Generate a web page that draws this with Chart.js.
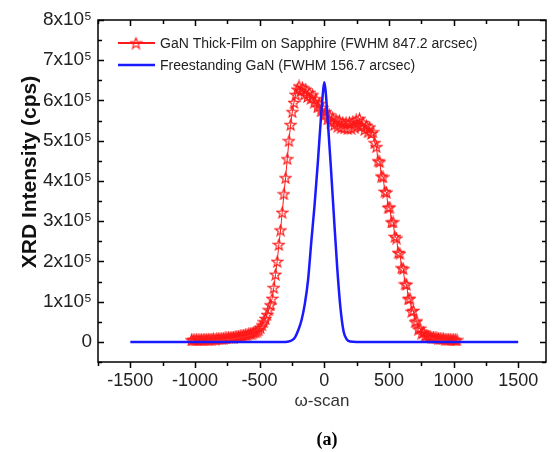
<!DOCTYPE html>
<html>
<head>
<meta charset="utf-8">
<script src="https://cdn.jsdelivr.net/npm/chart.js@4.4.1/dist/chart.umd.min.js"></script>
<style>
  html, body { margin: 0; padding: 0; background: #fff; }
</style>
</head>
<body>
<canvas id="grafico" width="553" height="452"></canvas>
<script>
// omega-scan en arcsec, intensidad en unidades de 10^5 cps
const omegaRojo = [-1027,-1014,-1001,-988,-975,-962,-949,-936,-923,-910,-897,-884,-871,-858,-845,-832,-819,-806,-793,-780,
  -767,-754,-741,-728,-715,-702,-689,-676,-663,-650,-637,-624,-611,-598,-585,-572,-559,-546,-533,-520,
  -507,-494,-481,-468,-455,-442,-429,-416,-403,-390,-377,-364,-351,-338,-325,-312,-299,-286,-273,-260,
  -247,-234,-221,-208,-195,-182,-169,-156,-143,-130,-117,-104,-91,-78,-65,-52,-39,-26,-13,0,
  13,26,39,52,65,78,91,104,117,130,143,156,169,182,195,208,221,234,247,260,
  273,286,299,312,325,338,351,364,377,390,403,416,429,442,455,468,481,494,507,520,
  533,546,559,572,585,598,611,624,637,650,663,676,689,702,715,728,741,754,767,780,
  793,806,819,832,845,858,871,884,897,910,923,936,949,962,975,988,1001,1014,1027];
const intensidadRojo = [0.05,0.06,0.05,0.06,0.05,0.06,0.06,0.06,0.07,0.06,0.07,0.07,0.07,0.08,0.07,0.08,0.08,0.08,0.09,0.09,
  0.10,0.10,0.11,0.11,0.12,0.12,0.13,0.14,0.14,0.15,0.16,0.17,0.18,0.18,0.20,0.21,0.22,0.24,0.25,0.27,
  0.30,0.35,0.42,0.50,0.58,0.68,0.80,0.92,1.08,1.35,1.68,2.00,2.42,2.78,3.22,3.68,4.08,4.55,5.00,5.40,
  5.72,5.95,6.15,6.28,6.36,6.25,6.32,6.15,6.28,6.10,6.20,6.05,6.14,5.96,6.04,5.84,5.92,5.74,5.82,5.64,
  5.72,5.54,5.64,5.46,5.57,5.40,5.52,5.36,5.50,5.33,5.46,5.32,5.45,5.30,5.46,5.31,5.48,5.34,5.52,5.38,
  5.55,5.36,5.45,5.28,5.38,5.22,5.34,5.18,5.22,4.95,4.85,4.50,4.48,4.12,4.10,3.74,3.72,3.34,3.35,2.98,
  2.98,2.62,2.58,2.22,2.20,1.84,1.82,1.44,1.43,1.07,1.08,0.76,0.78,0.50,0.52,0.32,0.34,0.22,0.24,0.16,
  0.17,0.13,0.14,0.11,0.12,0.10,0.10,0.09,0.09,0.08,0.08,0.07,0.07,0.07,0.06,0.06,0.06,0.05,0.05];

const omegaAzul = [-1500,-300,-275,-250,-225,-200,-175,-150,-125,-100,-75,-50,-25,-10,0,10,25,50,75,100,125,150,175,200,250,1500];
const intensidadAzul = [0,0,0.01,0.04,0.12,0.3,0.55,0.95,1.55,2.5,3.4,4.45,5.6,6.2,6.45,6.25,5.6,4.4,3.1,1.85,0.85,0.25,0.06,0.01,0,0];

const ticksX = [-1500,-1000,-500,0,500,1000,1500];
const menoresX = [-1750,-1250,-750,-250,250,750,1250];
const ticksY = [0,1,2,3,4,5,6,7,8];
const menoresY = [-0.5,0.5,1.5,2.5,3.5,4.5,5.5,6.5,7.5];

const etiquetaRojo = 'GaN Thick-Film on Sapphire (FWHM 847.2 arcsec)';
const etiquetaAzul = 'Freestanding GaN (FWHM 156.7 arcsec)';
const tituloY = 'XRD Intensity (cps)';

// estrella hueca para los puntos rojos
function hacerEstrella(tam, color){
  const c = document.createElement('canvas');
  c.width = tam; c.height = tam;
  const g = c.getContext('2d');
  const r1 = tam/2 - 0.8, r2 = r1*0.42, cx = tam/2, cy = tam/2 + 0.6;
  g.beginPath();
  for (let i = 0; i < 10; i++){
    const r = i % 2 ? r2 : r1;
    const a = -Math.PI/2 + i*Math.PI/5;
    g.lineTo(cx + r*Math.cos(a), cy + r*Math.sin(a));
  }
  g.closePath();
  g.strokeStyle = color;
  g.lineWidth = 1.2;
  g.stroke();
  return c;
}
const estrella = hacerEstrella(13, '#ff1a1a');

const puntosRojo = omegaRojo.map((w, i) => ({x: w, y: intensidadRojo[i]}));
const puntosAzul = omegaAzul.map((w, i) => ({x: w, y: intensidadAzul[i]}));

const fuente = "'Liberation Sans', Arial, sans-serif";

const marco = {
  id: 'marco',
  afterDraw(chart){
    const {ctx, chartArea: a, scales} = chart;
    const sx = scales.x, sy = scales.y;
    ctx.save();
    ctx.strokeStyle = '#000';
    ctx.lineWidth = 1.5;
    ctx.strokeRect(a.left, a.top, a.right - a.left, a.bottom - a.top);
    ctx.beginPath();
    const marcaX = (v, l) => {
      const px = Math.round(sx.getPixelForValue(v)) + 0.5;
      ctx.moveTo(px, a.bottom); ctx.lineTo(px, a.bottom + l);
      ctx.moveTo(px, a.top); ctx.lineTo(px, a.top + l);
    };
    const marcaY = (v, l) => {
      const py = Math.round(sy.getPixelForValue(v)) + 0.5;
      ctx.moveTo(a.left, py); ctx.lineTo(a.left + l, py);
      ctx.moveTo(a.right, py); ctx.lineTo(a.right - l, py);
    };
    ticksX.forEach(v => marcaX(v, 6));
    menoresX.forEach(v => marcaX(v, 4));
    ticksY.forEach(v => marcaY(v, 6));
    menoresY.forEach(v => marcaY(v, 4));
    ctx.stroke();

    // leyenda
    ctx.lineWidth = 2;
    ctx.strokeStyle = '#ff1a1a';
    ctx.beginPath(); ctx.moveTo(118, 43); ctx.lineTo(155, 43); ctx.stroke();
    ctx.drawImage(estrella, 136 - 6.5, 43 - 6.5);
    ctx.strokeStyle = '#1a1aff';
    ctx.lineWidth = 2.5;
    ctx.beginPath(); ctx.moveTo(118, 65); ctx.lineTo(155, 65); ctx.stroke();
    ctx.fillStyle = '#222';
    ctx.font = '14px ' + fuente;
    ctx.textBaseline = 'middle';
    ctx.textAlign = 'left';
    ctx.fillText(etiquetaRojo, 160, 44);
    ctx.fillText(etiquetaAzul, 160, 66);

    // titulo del eje y
    ctx.save();
    ctx.translate(30, 172);
    ctx.rotate(-Math.PI/2);
    ctx.textAlign = 'center';
    ctx.fillStyle = '#111';
    ctx.font = 'bold 21px ' + fuente;
    ctx.fillText(tituloY, 0, 0);
    ctx.restore();

    ctx.font = "bold 18px 'Liberation Serif', 'Times New Roman', serif";
    ctx.textAlign = 'center';
    ctx.fillStyle = '#000';
    ctx.fillText('(a)', 327, 440);
    ctx.restore();
  }
};

new Chart(document.getElementById('grafico'), {
  type: 'scatter',
  data: {
    datasets: [
      {
        label: etiquetaAzul,
        data: puntosAzul,
        showLine: true,
        borderColor: '#1a1aff',
        borderWidth: 2.5,
        pointRadius: 0,
        cubicInterpolationMode: 'monotone',
        order: 0
      },
      {
        label: etiquetaRojo,
        data: puntosRojo,
        showLine: true,
        borderColor: '#ff1a1a',
        borderWidth: 1,
        pointStyle: estrella,
        pointRadius: 6,
        order: 1
      }
    ]
  },
  options: {
    responsive: false,
    animation: false,
    devicePixelRatio: 1,
    layout: { padding: { top: 20, right: 3, left: 0, bottom: 0 } },
    plugins: { legend: { display: false }, tooltip: { enabled: false } },
    scales: {
      x: {
        type: 'linear',
        min: -1750,
        max: 1715,
        afterBuildTicks: s => { s.ticks = ticksX.map(v => ({value: v})); },
        afterFit: s => { s.height = 90; },
        grid: { display: false, drawTicks: false },
        border: { display: false },
        ticks: { color: '#222', font: { family: fuente, size: 18 }, padding: 8, maxRotation: 0, callback: v => String(v) },
        title: { display: true, text: 'ω-scan', color: '#333', font: { family: fuente, size: 17 }, padding: { top: 0, bottom: 40 } }
      },
      y: {
        min: -0.5,
        max: 8,
        afterBuildTicks: s => { s.ticks = ticksY.map(v => ({value: v})); },
        afterFit: s => { s.width = 98; },
        grid: { display: false, drawTicks: false },
        border: { display: false },
        ticks: {
          color: '#222',
          font: { family: fuente, size: 19 },
          padding: 6,
          callback: v => v === 0 ? '0' : v + 'x10⁵'
        },
        title: { display: false }
      }
    }
  },
  plugins: [marco]
});
</script>
</body>
</html>
